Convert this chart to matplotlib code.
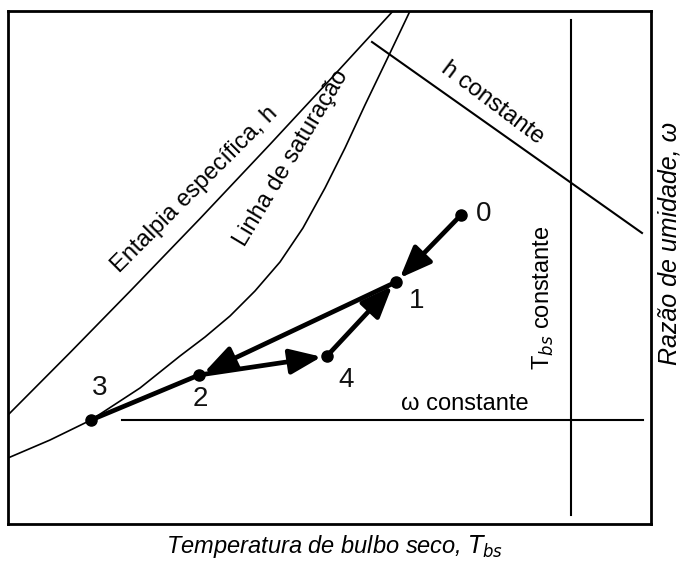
import matplotlib
matplotlib.use("Agg")
import matplotlib.pyplot as plt

plt.rcParams['font.family'] = ['Liberation Sans', 'DejaVu Sans']

# curvas (unidades arbitrarias: Tbs 0-100, omega 0-100)
sat_x = [0, 6.53, 12.91, 20.53, 26.75, 30.64, 34.53, 38.41, 42.30, 45.87,
         49.30, 52.41, 55.52, 59.41, 62.52]
sat_y = [12.87, 16.37, 20.27, 26.51, 32.75, 36.45, 40.55, 45.42, 51.07, 57.70,
         65.50, 73.29, 81.68, 91.81, 100.0]

ent_x = [0, 9.64, 18.97, 29.86, 40.75, 50.08, 59.88]
ent_y = [21.25, 33.40, 45.36, 59.53, 74.01, 86.61, 100.0]

h_const_x = [56.61, 98.60]
h_const_y = [93.96, 56.73]

tbs_const_x = 87.56
tbs_const_y = [1.75, 98.25]

w_const_y = 20.27
w_const_x = [17.73, 98.76]

# estados
pt_nome = ['0', '1', '2', '3', '4']
pt_x = [70.45, 60.34, 29.70, 12.91, 49.61]
pt_y = [60.23, 47.17, 29.04, 20.27, 32.75]

# processos com seta (de, para)
setas = [('0', '1'), ('1', '2'), ('2', '4'), ('4', '1')]

fig = plt.figure(figsize=(6.86, 5.74), dpi=100)
ax = fig.add_axes([8/686, 50/574, 643/686, 513/574])
ax.set_xlim(0, 100)
ax.set_ylim(0, 100)
ax.set_xticks([])
ax.set_yticks([])
for s in ax.spines.values():
    s.set_linewidth(2)

ax.plot(sat_x, sat_y, color='black', lw=1.2)
ax.plot(ent_x, ent_y, color='black', lw=1.2)
ax.plot(h_const_x, h_const_y, color='black', lw=1.5)
ax.plot([tbs_const_x, tbs_const_x], tbs_const_y, color='black', lw=1.5)
ax.plot(w_const_x, [w_const_y, w_const_y], color='black', lw=1.5)

idx = {n: i for i, n in enumerate(pt_nome)}
# linha 2-3
ax.plot([pt_x[idx['2']], pt_x[idx['3']]], [pt_y[idx['2']], pt_y[idx['3']]],
        color='black', lw=3.4, solid_capstyle='round')

for a, b in setas:
    ax.annotate("", xy=(pt_x[idx[b]], pt_y[idx[b]]),
                xytext=(pt_x[idx[a]], pt_y[idx[a]]),
                arrowprops=dict(arrowstyle='-|>,head_length=0.8,head_width=0.32',
                                lw=3.4, color='black', mutation_scale=24,
                                shrinkA=0, shrinkB=4))

ax.plot(pt_x, pt_y, 'o', color='black', ms=8)

offs = {'0': (16, 1), '1': (15, -14), '2': (1, -17), '3': (6, 23), '4': (14, -17)}
for n, x, y in zip(pt_nome, pt_x, pt_y):
    ax.annotate(n, (x, y), xytext=offs[n], textcoords='offset points',
                ha='center', va='center', fontsize=20, color='#111111')

fs = 17
ax.text(29.1, 65.2, "Entalpia específica, h", rotation=45, ha='center', va='center', fontsize=fs)
ax.text(44.0, 71.3, "Linha de saturação", rotation=59, ha='center', va='center', fontsize=fs)
ax.text(75.3, 82.1, "h constante", rotation=-37, ha='center', va='center', fontsize=fs)
ax.text(83.2, 44.0, r"T$_{bs}$ constante", rotation=90, ha='center', va='center', fontsize=fs)
ax.text(71.1, 23.4, "ω constante", ha='center', va='center', fontsize=fs)

fig.text(335/686, 1 - 546/574, r"Temperatura de bulbo seco, $\mathit{T}_{bs}$",
         ha='center', va='center', fontsize=fs, style='italic')
fig.text(670/686, 1 - 243/574, "Razão de umidade, ω", rotation=90,
         ha='center', va='center', fontsize=18, style='italic')

fig.savefig("out.png", dpi=100)
